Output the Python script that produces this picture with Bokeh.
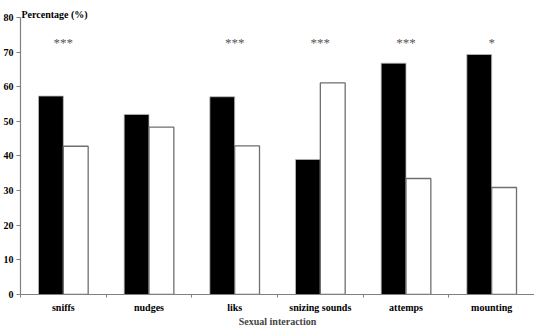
from bokeh.plotting import figure
from bokeh.models import ColumnDataSource, FixedTicker, Range1d, Label
from bokeh.embed import file_html
from bokeh.resources import INLINE
from bokeh.core.properties import value

categories = ["sniffs", "nudges", "liks", "snizing sounds", "attemps", "mounting"]
series_black = [57.3, 52.0, 57.1, 39.0, 66.8, 69.3]
series_white = [42.8, 48.3, 42.9, 61.1, 33.5, 30.9]
significance = ["***", "", "***", "***", "***", "*"]
star_level = 72.8

FONT = "Liberation Serif"
n = len(categories)
centers = [i + 0.5 for i in range(n)]
bw = 0.29

p = figure(width=534, height=329, output_backend="svg", toolbar_location=None,
           x_range=Range1d(0, n), y_range=Range1d(0, 82))
p.min_border_left = 14
p.min_border_right = 0
p.min_border_top = 10
p.min_border_bottom = 33
p.outline_line_color = None
p.grid.visible = False

src_b = ColumnDataSource(dict(x=[c - bw / 2 for c in centers], top=series_black))
src_w = ColumnDataSource(dict(x=[c + bw / 2 for c in centers], top=series_white))
p.vbar(x="x", top="top", bottom=0, width=bw, source=src_b,
       fill_color="black", line_color="#bbbbbb", line_width=0.8)
p.vbar(x="x", top="top", bottom=0, width=bw, source=src_w,
       fill_color="white", line_color="#6f6f6f", line_width=1.3)

src_s = ColumnDataSource(dict(x=centers, y=[star_level] * n, t=significance))
p.text(x="x", y="y", text="t", source=src_s, text_align="center",
       text_baseline="middle", text_font=value(FONT), text_font_size="13px",
       text_color="#555555")

# x axis
xa = p.xaxis[0]
xa.ticker = FixedTicker(ticks=centers, minor_ticks=list(range(n + 1)))
xa.major_label_overrides = {c: lab for c, lab in zip(centers, categories)}
xa.major_tick_line_color = None
xa.major_tick_out = 0
xa.major_tick_in = 0
xa.minor_tick_out = 3
xa.minor_tick_in = 0
xa.minor_tick_line_color = "#808080"
xa.axis_line_color = "#808080"
xa.axis_line_width = 1.2
xa.major_label_text_font = FONT
xa.major_label_text_font_style = "bold"
xa.major_label_text_font_size = "10px"
xa.major_label_text_color = "black"
xa.major_label_standoff = 4
xa.axis_label = "Sexual interaction"
xa.axis_label_text_font = FONT
xa.axis_label_text_font_style = "bold"
xa.axis_label_text_font_size = "10px"
xa.axis_label_standoff = 0

# y axis
ya = p.yaxis[0]
ya.ticker = FixedTicker(ticks=list(range(0, 81, 10)))
ya.bounds = (0, 80)
ya.major_tick_out = 4
ya.major_tick_in = 0
ya.minor_tick_line_color = None
ya.major_tick_line_color = "#808080"
ya.axis_line_color = "#808080"
ya.axis_line_width = 1.2
ya.major_label_text_font = FONT
ya.major_label_text_font_style = "bold"
ya.major_label_text_font_size = "10px"
ya.major_label_text_color = "black"
ya.major_label_standoff = 3

p.add_layout(Label(x=0, y=82, x_offset=1, y_offset=2, text="Percentage (%)",
                   text_font=FONT, text_font_style="bold", text_font_size="10px",
                   text_baseline="top", text_color="black"))

open("out.html", "w").write(file_html(p, INLINE))
